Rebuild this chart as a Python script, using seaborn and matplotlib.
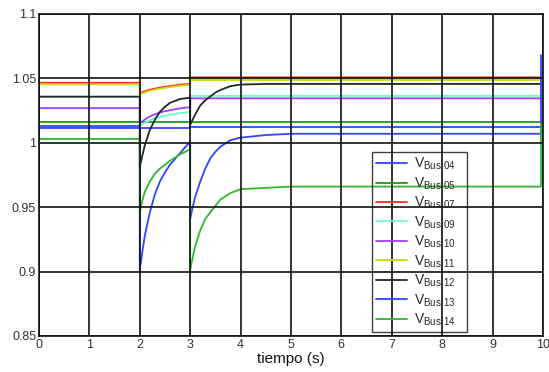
import numpy as np
import pandas as pd
import seaborn as sns
import matplotlib
matplotlib.use("Agg")
import matplotlib.pyplot as plt
from matplotlib.lines import Line2D

sns.set_style("white")
plt.rcParams['font.family'] = ['Liberation Sans', 'DejaVu Sans']
plt.rcParams['mathtext.fontset'] = 'custom'
plt.rcParams['mathtext.rm'] = 'Liberation Sans'

# time samples (s); repeated values mark the step changes
t = [0, 2, 2, 2.05, 2.1, 2.2, 2.3, 2.4, 2.5, 2.6, 2.8, 3, 3, 3.05, 3.1, 3.2, 3.3, 3.4, 3.5,
     3.6, 3.8, 4, 4.5, 5, 6, 9.96, 9.96]

v04 = [1.0133, 1.0133, 1.0112, 1.0112, 1.0112, 1.0112, 1.0112, 1.0112, 1.0112, 1.0112, 1.0112, 1.0112,
       1.0125, 1.0125, 1.0125, 1.0125, 1.0125, 1.0125, 1.0125, 1.0125, 1.0125, 1.0125, 1.0125, 1.0125,
       1.0125, 1.0125, 1.0125]
v05 = [1.0158] * 27
v07 = [1.0466, 1.0466, 1.0385, 1.0393, 1.0400, 1.0412, 1.0421, 1.0428, 1.0435, 1.0441, 1.0451, 1.0458,
       1.0508, 1.0508, 1.0508, 1.0508, 1.0508, 1.0508, 1.0508, 1.0508, 1.0508, 1.0508, 1.0508, 1.0508,
       1.0508, 1.0508, 1.0508]
v09 = [1.0358, 1.0358, 1.0130, 1.0143, 1.0155, 1.0175, 1.0190, 1.0200, 1.0210, 1.0218, 1.0230, 1.0240,
       1.0364, 1.0364, 1.0364, 1.0364, 1.0364, 1.0364, 1.0364, 1.0364, 1.0364, 1.0364, 1.0364, 1.0364,
       1.0364, 1.0364, 1.0364]
v10 = [1.0269, 1.0269, 1.0154, 1.0167, 1.0180, 1.0205, 1.0222, 1.0235, 1.0245, 1.0253, 1.0267, 1.0277,
       1.0345, 1.0345, 1.0345, 1.0345, 1.0345, 1.0345, 1.0345, 1.0345, 1.0345, 1.0345, 1.0345, 1.0345,
       1.0345, 1.0345, 1.0345]
v11 = [1.0454, 1.0454, 1.0377, 1.0385, 1.0392, 1.0404, 1.0413, 1.0420, 1.0427, 1.0433, 1.0443, 1.0450,
       1.0488, 1.0488, 1.0488, 1.0488, 1.0488, 1.0488, 1.0488, 1.0488, 1.0488, 1.0488, 1.0488, 1.0488,
       1.0488, 1.0488, 1.0488]
v12 = [1.0358, 1.0358, 0.981, 0.990, 0.998, 1.010, 1.018, 1.024, 1.028, 1.031, 1.034, 1.035,
       1.014, 1.018, 1.022, 1.029, 1.033, 1.036, 1.039, 1.041, 1.044, 1.0452, 1.0457, 1.0457,
       1.0457, 1.0457, 1.0457]
v13 = [1.0115, 1.0115, 0.901, 0.915, 0.928, 0.946, 0.960, 0.970, 0.977, 0.983, 0.992, 1.001,
       0.941, 0.950, 0.958, 0.970, 0.980, 0.988, 0.993, 0.997, 1.002, 1.004, 1.006, 1.007,
       1.007, 1.007, 1.068]
v14 = [1.003, 1.003, 0.946, 0.955, 0.962, 0.970, 0.976, 0.980, 0.983, 0.986, 0.991, 0.995,
       0.901, 0.911, 0.920, 0.932, 0.941, 0.946, 0.951, 0.956, 0.961, 0.964, 0.965, 0.966,
       0.966, 0.966, 1.015]

buses = ['04', '05', '07', '09', '10', '11', '12', '13', '14']
series = [v04, v05, v07, v09, v10, v11, v12, v13, v14]
colors = ['#2f45ff', '#1f9a1f', '#ff2a2a', '#6dffc8', '#a43cff', '#c8d800',
          '#262626', '#2f45ff', '#2eb82e']

x_ticks = [0, 1, 2, 3, 4, 5, 6, 7, 8, 9, 10]
y_ticks = [0.85, 0.9, 0.95, 1.0, 1.05, 1.1]
y_tick_labels = ['0.85', '0.9', '0.95', '1', '1.05', '1.1']

rows = []
for b, vals in zip(buses, series):
    for i, (ti, vi) in enumerate(zip(t, vals)):
        rows.append({'t': ti, 'v': vi, 'bus': b, 'order': i})
df = pd.DataFrame(rows)

fig = plt.figure(figsize=(5.49, 3.72), dpi=100)
ax = fig.add_axes([0.071, 0.0968, 0.918, 0.8656])

sns.lineplot(data=df, x='t', y='v', hue='bus', palette=dict(zip(buses, colors)),
             estimator=None, sort=False, linewidth=1.3, ax=ax, legend=False)

ax.set_xlim(0, 10)
ax.set_ylim(0.85, 1.1)
ax.set_xticks(x_ticks)
ax.set_yticks(y_ticks)
ax.set_yticklabels(y_tick_labels)
ax.set_axisbelow(False)
ax.grid(True, color='#111111', linewidth=1.2, linestyle='-')
for s in ax.spines.values():
    s.set_color('#111111')
    s.set_linewidth(1.2)
ax.tick_params(axis='both', labelsize=9, colors='#333333', direction='in', length=3, pad=2)
ax.set_xlabel('tiempo (s)', fontsize=11, color='#111111', labelpad=1)
ax.set_ylabel('')

handles = [Line2D([0], [0], color=c, linewidth=1.3) for c in colors]
labels = [r'$\mathregular{V_{Bus\ %s}}$' % b for b in buses]
leg = ax.legend(handles, labels, loc='lower left', bbox_to_anchor=(0.661, 0.012, 0.188, 0.566),
                mode='expand', frameon=True, fancybox=False, fontsize=10,
                handlelength=2.2, handletextpad=0.5, labelspacing=0.22, borderpad=0.3,
                borderaxespad=0)
frame = leg.get_frame()
frame.set_facecolor('none')
frame.set_edgecolor('#111111')
frame.set_linewidth(1.0)

fig.savefig('out.png', dpi=100)
